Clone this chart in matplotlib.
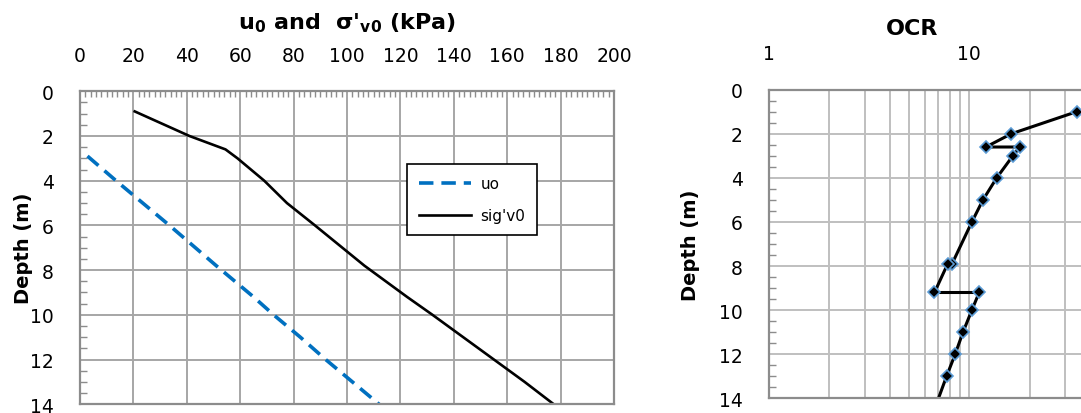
import matplotlib
matplotlib.use("Agg")
import matplotlib.pyplot as plt
from matplotlib.ticker import MultipleLocator, LogLocator, FixedLocator, NullFormatter, FuncFormatter

W, H = 1081, 414

# ---- data ----
sig_depth = [0.9, 2.0, 2.6, 3.0, 4.0, 5.0, 6.0, 7.8, 9.2, 10.0, 11.0, 12.0, 13.0, 14.1]
sig_val = [20.5, 41.0, 54.5, 59.0, 69.0, 77.5, 88.0, 106.5, 122.5, 132.0, 143.5, 155.0, 166.5, 178.5]

u_depth = [2.9, 4.0, 5.0, 6.0, 7.8, 9.2, 10.0, 11.0, 12.0, 13.0, 14.1]
u_val = [2.8, 13.5, 23.5, 33.5, 51.0, 65.0, 72.5, 82.5, 92.0, 102.0, 113.0]

ocr_depth = [1.0, 2.0, 2.6, 2.6, 3.0, 4.0, 5.0, 6.0, 7.9, 7.9, 9.2, 9.2, 10.0, 11.0, 12.0, 13.0, 14.5]
ocr_val = [34.3, 16.2, 12.1, 17.9, 16.5, 13.7, 11.7, 10.3, 8.2, 7.8, 6.7, 11.2, 10.3, 9.3, 8.5, 7.7, 6.7]

GRID = "#a6a6a6"
SPINE = "#8c8c8c"
BLUE = "#0070c0"
MK_EDGE = "#5b9bd5"

plt.rcParams.update({"font.family": "DejaVu Sans", "mathtext.fontset": "dejavusans"})
fig = plt.figure(figsize=(W / 100, H / 100), dpi=100)


def px(x0, y_top, x1, y_bot):
    return [x0 / W, 1 - y_bot / H, (x1 - x0) / W, (y_bot - y_top) / H]


def style_depth_axis(ax):
    ax.set_ylim(14, 0)
    ax.yaxis.set_major_locator(MultipleLocator(2))
    ax.yaxis.set_minor_locator(MultipleLocator(0.5))
    ax.tick_params(axis="y", which="major", length=0, pad=19, labelsize=13.5)
    ax.tick_params(axis="y", which="minor", direction="in", length=5, width=1, color=SPINE)
    ax.xaxis.tick_top()
    ax.tick_params(axis="x", which="major", length=0, pad=19, labelsize=13.5)
    for s in ax.spines.values():
        s.set_color(SPINE)
        s.set_linewidth(1.6)
    ax.set_ylabel("Depth (m)", fontsize=14, fontweight="bold")
    ax.set_axisbelow(True)


# ---- left panel: u0 and sigma'v0 ----
ax1 = fig.add_axes(px(80, 92.3, 614, 405.2))
ax1.set_xlim(0, 200)
ax1.xaxis.set_major_locator(MultipleLocator(20))
ax1.xaxis.set_minor_locator(MultipleLocator(2))
style_depth_axis(ax1)
ax1.tick_params(axis="x", which="minor", direction="in", length=4, width=1, color=SPINE)
ax1.grid(True, which="major", color=GRID, lw=1.4)
ax1.yaxis.set_label_coords(-(80 - 33) / 534, 0.5)

l_u, = ax1.plot(u_val, u_depth, color=BLUE, lw=2.6, ls=(0, (4, 2.2)), label="uo")
l_s, = ax1.plot(sig_val, sig_depth, color="black", lw=1.9, label="sig'v0")

leg = ax1.legend(handles=[l_u, l_s], loc="upper left",
                 bbox_to_anchor=(407 / W, 1 - 165 / H), bbox_transform=fig.transFigure,
                 borderaxespad=0, fontsize=11, frameon=True, fancybox=False,
                 framealpha=1, edgecolor="black", handlelength=3.4,
                 handletextpad=0.6, borderpad=0.8, labelspacing=1.1)
leg.get_frame().set_linewidth(1.2)

fig.text(347 / W, 1 - 29 / H, r"u$_\mathbf{0}$ and  σ'$_\mathbf{v0}$ (kPa)",
         ha="center", va="baseline", fontsize=16, fontweight="bold")

# ---- right panel: OCR (log scale, cropped on the right like the source) ----
ax2 = fig.add_axes(px(769, 90.7, 769 + 400.6, 399.3))
ax2.set_xscale("log")
ax2.set_xlim(1, 100)
style_depth_axis(ax2)
ax2.xaxis.set_major_locator(FixedLocator([1, 10]))
ax2.xaxis.set_major_formatter(FuncFormatter(lambda v, p: f"{v:g}"))
ax2.xaxis.set_minor_locator(LogLocator(base=10, subs=range(2, 10)))
ax2.xaxis.set_minor_formatter(NullFormatter())
ax2.tick_params(axis="x", which="minor", length=0)
ax2.grid(True, which="major", color="#bfbfbf", lw=1.4)
ax2.grid(True, which="minor", axis="x", color="#bfbfbf", lw=1.4)
ax2.yaxis.set_label_coords(-(769 - 700) / 400.6, 0.5)

ax2.plot(ocr_val, ocr_depth, color="black", lw=2.2, marker="D", markersize=6,
         markerfacecolor="black", markeredgecolor=MK_EDGE, markeredgewidth=1.2)

fig.text(912 / W, 1 - 35 / H, "OCR", ha="center", va="baseline",
         fontsize=16, fontweight="bold")

fig.savefig("out.png", dpi=100)
